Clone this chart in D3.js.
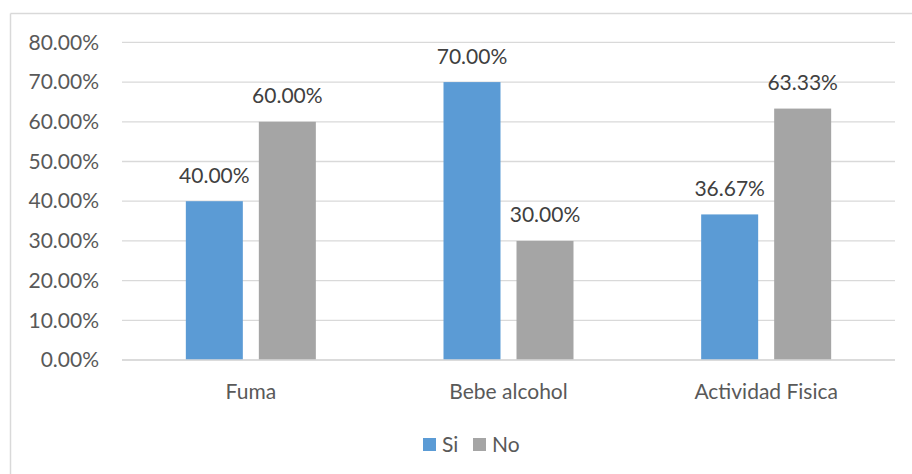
<!DOCTYPE html>
<html><head><meta charset="utf-8">
<script src="https://cdn.jsdelivr.net/npm/d3@7"></script>
<style>html,body{margin:0;padding:0;background:#fff;}svg{display:block;}</style>
</head><body>
<svg id="c" width="912" height="474"></svg>
<script>
const categories = ["Fuma", "Bebe alcohol", "Actividad Fisica"];
const seriesNames = ["Si", "No"];
const siValues = [40.00, 70.00, 36.67];
const noValues = [60.00, 30.00, 63.33];
const yTicks = [0, 10, 20, 30, 40, 50, 60, 70, 80];
const colors = ["#5B9BD5", "#A5A5A5"];

const svg = d3.select("#c");
const font = "Lato, 'Open Sans', sans-serif";
const textColor = "#595959";
const fs = 21;

// chart border (top and left visible)
svg.append("line").attr("x1",10.5).attr("x2",912).attr("y1",13.5).attr("y2",13.5).attr("stroke","#d9d9d9").attr("stroke-width",1.5);
svg.append("line").attr("x1",10.5).attr("x2",10.5).attr("y1",13.5).attr("y2",474).attr("stroke","#d9d9d9").attr("stroke-width",1.5);

const x0 = d3.scaleBand().domain(categories).range([122, 895]).paddingInner(0).paddingOuter(0);
const y = d3.scaleLinear().domain([0, 80]).range([360, 42.4]);

// gridlines
svg.append("g").selectAll("line").data(yTicks).join("line")
  .attr("x1",122).attr("x2",895)
  .attr("y1",d=>y(d)).attr("y2",d=>y(d))
  .attr("stroke","#d9d9d9").attr("stroke-width",1.3);

// y axis labels
const yAxis = d3.axisLeft(y).tickValues(yTicks).tickSize(0).tickPadding(23).tickFormat(d=>d3.format(".2f")(d)+"%");
const gy = svg.append("g").attr("transform","translate(122,0)").call(yAxis);
gy.select(".domain").remove();
gy.selectAll("text").attr("font-family",font).attr("font-size",fs).attr("fill",textColor);

// bars
const barW = 57, gap = 16;
const data = categories.map((c,i)=>({c, vals:[siValues[i], noValues[i]]}));
const g = svg.append("g");
data.forEach(d=>{
  const cx = x0(d.c) + x0.bandwidth()/2;
  d.vals.forEach((v,j)=>{
    const bx = j===0 ? cx - gap/2 - barW : cx + gap/2;
    g.append("rect").attr("x",bx).attr("y",y(v)).attr("width",barW).attr("height",y(0)-y(v)).attr("fill",colors[j]);
    g.append("text").attr("x",bx+barW/2).attr("y",y(v)-18.5).attr("text-anchor","middle")
      .attr("font-family",font).attr("font-size",fs).attr("fill","#404040").text(d3.format(".2f")(v)+"%");
  });
});

// x axis line
svg.append("line").attr("x1",122).attr("x2",895).attr("y1",360).attr("y2",360).attr("stroke","#d9d9d9").attr("stroke-width",1.3);

// x category labels
const xAxis = d3.axisBottom(x0).tickSize(0);
const gx = svg.append("g").attr("transform","translate(0,360)").call(xAxis);
gx.select(".domain").remove();
gx.selectAll("text").attr("dy",null).attr("y",39).attr("font-family",font).attr("font-size",fs).attr("fill",textColor);

// legend
const leg = svg.append("g");
const legX = [423, 473];
seriesNames.forEach((s,i)=>{
  leg.append("rect").attr("x",legX[i]).attr("y",438).attr("width",13).attr("height",13).attr("fill",colors[i]);
  leg.append("text").attr("x",legX[i]+19).attr("y",451.5).attr("font-family",font).attr("font-size",fs).attr("fill",textColor).text(s);
});
</script>
</body></html>
